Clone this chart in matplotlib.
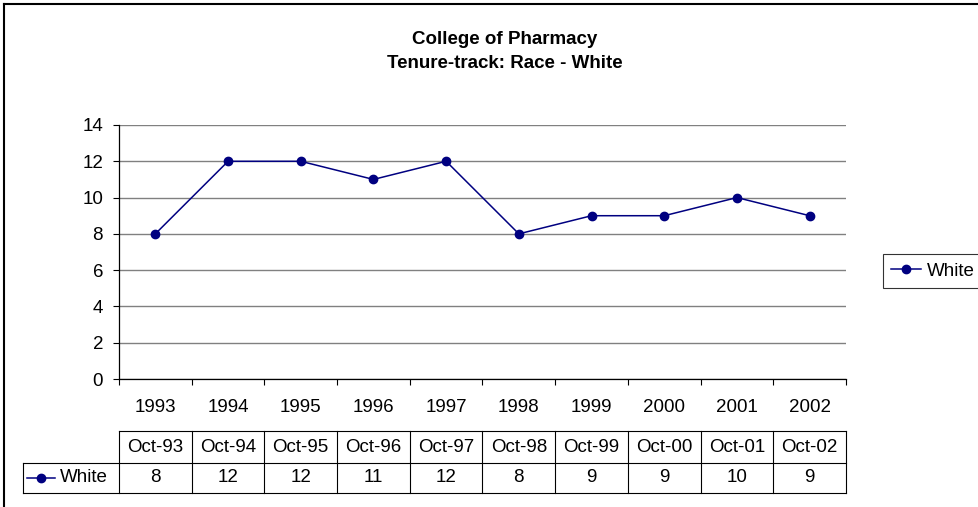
import matplotlib
matplotlib.use('Agg')
import matplotlib.pyplot as plt
from matplotlib.lines import Line2D
import matplotlib.transforms as mtrans

plt.rcParams['font.family'] = ['Liberation Sans', 'DejaVu Sans']

years = ['1993', '1994', '1995', '1996', '1997', '1998', '1999', '2000', '2001', '2002']
dates = ['Oct-93', 'Oct-94', 'Oct-95', 'Oct-96', 'Oct-97', 'Oct-98', 'Oct-99', 'Oct-00', 'Oct-01', 'Oct-02']
white = [8, 12, 12, 11, 12, 8, 9, 9, 10, 9]
series_name = 'White'

W, H = 979, 507
navy = '#000080'
fs = 13.5

fig = plt.figure(figsize=(W / 100, H / 100), dpi=100)

# plot area in pixel terms
px_left, px_right, px_top, px_bottom = 119, 846, 125, 379
ax = fig.add_axes([px_left / W, (H - px_bottom) / H,
                   (px_right - px_left) / W, (px_bottom - px_top) / H])

x = list(range(len(years)))
ax.plot(x, white, color=navy, lw=1.1, marker='o', ms=6, label=series_name)

ax.set_xlim(-0.5, len(years) - 0.5)
ax.set_ylim(0, 14)
ax.set_yticks(range(0, 15, 2))
ax.yaxis.grid(True, color='#808080', lw=1.0)
ax.set_axisbelow(True)
ax.tick_params(axis='y', direction='out', length=4.5, width=0.8, labelsize=fs, pad=7)
ax.set_xticks([i - 0.5 for i in range(len(years) + 1)])
ax.set_xticklabels([])
ax.tick_params(axis='x', direction='out', length=4, width=0.8)
for s in ['top', 'right']:
    ax.spines[s].set_visible(False)
for s in ['left', 'bottom']:
    ax.spines[s].set_linewidth(0.9)

def ay(p):
    # pixel row -> axes fraction
    return (px_bottom - p) / (px_bottom - px_top)

bt = mtrans.blended_transform_factory(ax.transData, ax.transAxes)

# year labels
for i, yr in enumerate(years):
    ax.text(i, ay(407), yr, transform=bt, ha='center', va='center', fontsize=fs)

# data table
y_top, y_mid, y_bot = ay(431), ay(463), ay(493)
x_hdr = (23 - px_left) / (px_right - px_left)
lk = dict(color='black', lw=0.8, clip_on=False)
ax.add_line(Line2D([0, 1], [y_top, y_top], transform=ax.transAxes, **lk))
ax.add_line(Line2D([x_hdr, 1], [y_mid, y_mid], transform=ax.transAxes, **lk))
ax.add_line(Line2D([x_hdr, 1], [y_bot, y_bot], transform=ax.transAxes, **lk))
ax.add_line(Line2D([x_hdr, x_hdr], [y_mid, y_bot], transform=ax.transAxes, **lk))
for b in range(len(years) + 1):
    ax.add_line(Line2D([b - 0.5, b - 0.5], [y_top, y_bot], transform=bt, **lk))
for i in range(len(years)):
    ax.text(i, (y_top + y_mid) / 2, dates[i], transform=bt, ha='center', va='center', fontsize=fs)
    ax.text(i, (y_mid + y_bot) / 2, str(white[i]), transform=bt, ha='center', va='center', fontsize=fs)

# legend key in the table row header
ymr = (y_mid + y_bot) / 2
x0 = (27 - px_left) / (px_right - px_left)
x1 = (55 - px_left) / (px_right - px_left)
ax.add_line(Line2D([x0, x1], [ymr, ymr], transform=ax.transAxes, color=navy, lw=1.1, clip_on=False))
ax.add_line(Line2D([(x0 + x1) / 2], [ymr], transform=ax.transAxes, color=navy, marker='o', ms=6, clip_on=False))
ax.text((60 - px_left) / (px_right - px_left), ymr, series_name, transform=ax.transAxes,
        ha='left', va='center', fontsize=fs)

# title
fig.text(505 / W, 1 - 40 / H, 'College of Pharmacy', ha='center', va='center',
         fontsize=fs, fontweight='bold')
fig.text(505 / W, 1 - 64 / H, 'Tenure-track: Race - White', ha='center', va='center',
         fontsize=fs, fontweight='bold')

# legend on the right
leg = fig.legend(loc='upper left', bbox_to_anchor=(883 / W, 1 - 254 / H), fontsize=fs,
                 frameon=True, fancybox=False, edgecolor='black', handlelength=1.6,
                 borderpad=0.45, handletextpad=0.3, borderaxespad=0)
leg.get_frame().set_linewidth(0.8)

# outer chart border (right and bottom fall outside the picture)
fig.add_artist(Line2D([4 / W, 1], [1 - 4 / H, 1 - 4 / H], transform=fig.transFigure, color='black', lw=1.5))
fig.add_artist(Line2D([4 / W, 4 / W], [0, 1 - 4 / H], transform=fig.transFigure, color='black', lw=1.5))

fig.savefig('out.png', dpi=100)
